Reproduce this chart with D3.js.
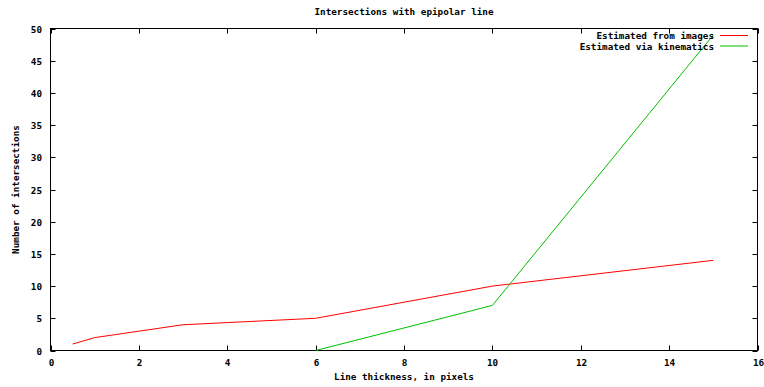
<!DOCTYPE html>
<html><head><meta charset="utf-8">
<script src="https://cdn.jsdelivr.net/npm/d3@7"></script>
<style>
body{margin:0;background:#fff;}
text{font-family:"DejaVu Sans Mono","Liberation Mono",monospace;font-weight:bold;font-size:9.3px;fill:#000;}
</style></head>
<body><svg id="c" width="764" height="387"></svg>
<script>
const title = "Intersections with epipolar line";
const xLabel = "Line thickness, in pixels";
const yLabel = "Number of intersections";
const xTicks = [0,2,4,6,8,10,12,14,16];
const yTicks = [0,5,10,15,20,25,30,35,40,45,50];
const seriesNames = ["Estimated from images","Estimated via kinematics"];
const seriesColors = ["#ff0000","#00c000"];
const imagesX = [0.5,1,2,3,6,10,15];
const imagesY = [1,2,3,4,5,10,14];
const kinX = [6,10,15];
const kinY = [0,7,49];

const svg = d3.select("#c");
const L=50.5, R=757.5, T=28.5, B=350.5;
const x = d3.scaleLinear().domain([0,16]).range([L,R]);
const y = d3.scaleLinear().domain([0,50]).range([B,T]);

svg.append("text").attr("x",(L+R)/2).attr("y",15).attr("text-anchor","middle").text(title);

// border
svg.append("rect").attr("x",L).attr("y",T).attr("width",R-L).attr("height",B-T)
  .attr("fill","none").attr("stroke","#000").attr("stroke-width",1);

const tl=5;
const g = svg.append("g").attr("stroke","#000").attr("stroke-width",1);
xTicks.forEach(v=>{
  const px=Math.round(x(v))+0.5;
  g.append("line").attr("x1",px).attr("x2",px).attr("y1",B).attr("y2",B-tl);
  g.append("line").attr("x1",px).attr("x2",px).attr("y1",T).attr("y2",T+tl);
  svg.append("text").attr("x",px).attr("y",B+15).attr("text-anchor","middle").text(v);
});
yTicks.forEach(v=>{
  const py=Math.round(y(v))+0.5;
  g.append("line").attr("x1",L).attr("x2",L+tl).attr("y1",py).attr("y2",py);
  g.append("line").attr("x1",R).attr("x2",R-tl).attr("y1",py).attr("y2",py);
  svg.append("text").attr("x",42).attr("y",py+3.5).attr("text-anchor","end").text(v);
});

svg.append("text").attr("x",(L+R)/2).attr("y",380).attr("text-anchor","middle").text(xLabel);
svg.append("text").attr("transform",`translate(19,${(T+B)/2}) rotate(-90)`).attr("text-anchor","middle").text(yLabel);

const line = d3.line().x(d=>x(d[0])).y(d=>y(d[1]));
const data = [d3.zip(imagesX,imagesY), d3.zip(kinX,kinY)];
data.forEach((d,i)=>{
  svg.append("path").attr("d",line(d)).attr("fill","none").attr("stroke",seriesColors[i]).attr("stroke-width",1);
});

seriesNames.forEach((n,i)=>{
  const ly=35.5+i*10.5;
  svg.append("text").attr("x",714).attr("y",ly+3.5).attr("text-anchor","end").text(n);
  svg.append("line").attr("x1",720).attr("x2",748).attr("y1",ly).attr("y2",ly).attr("stroke",seriesColors[i]).attr("stroke-width",1);
});
</script></body></html>
